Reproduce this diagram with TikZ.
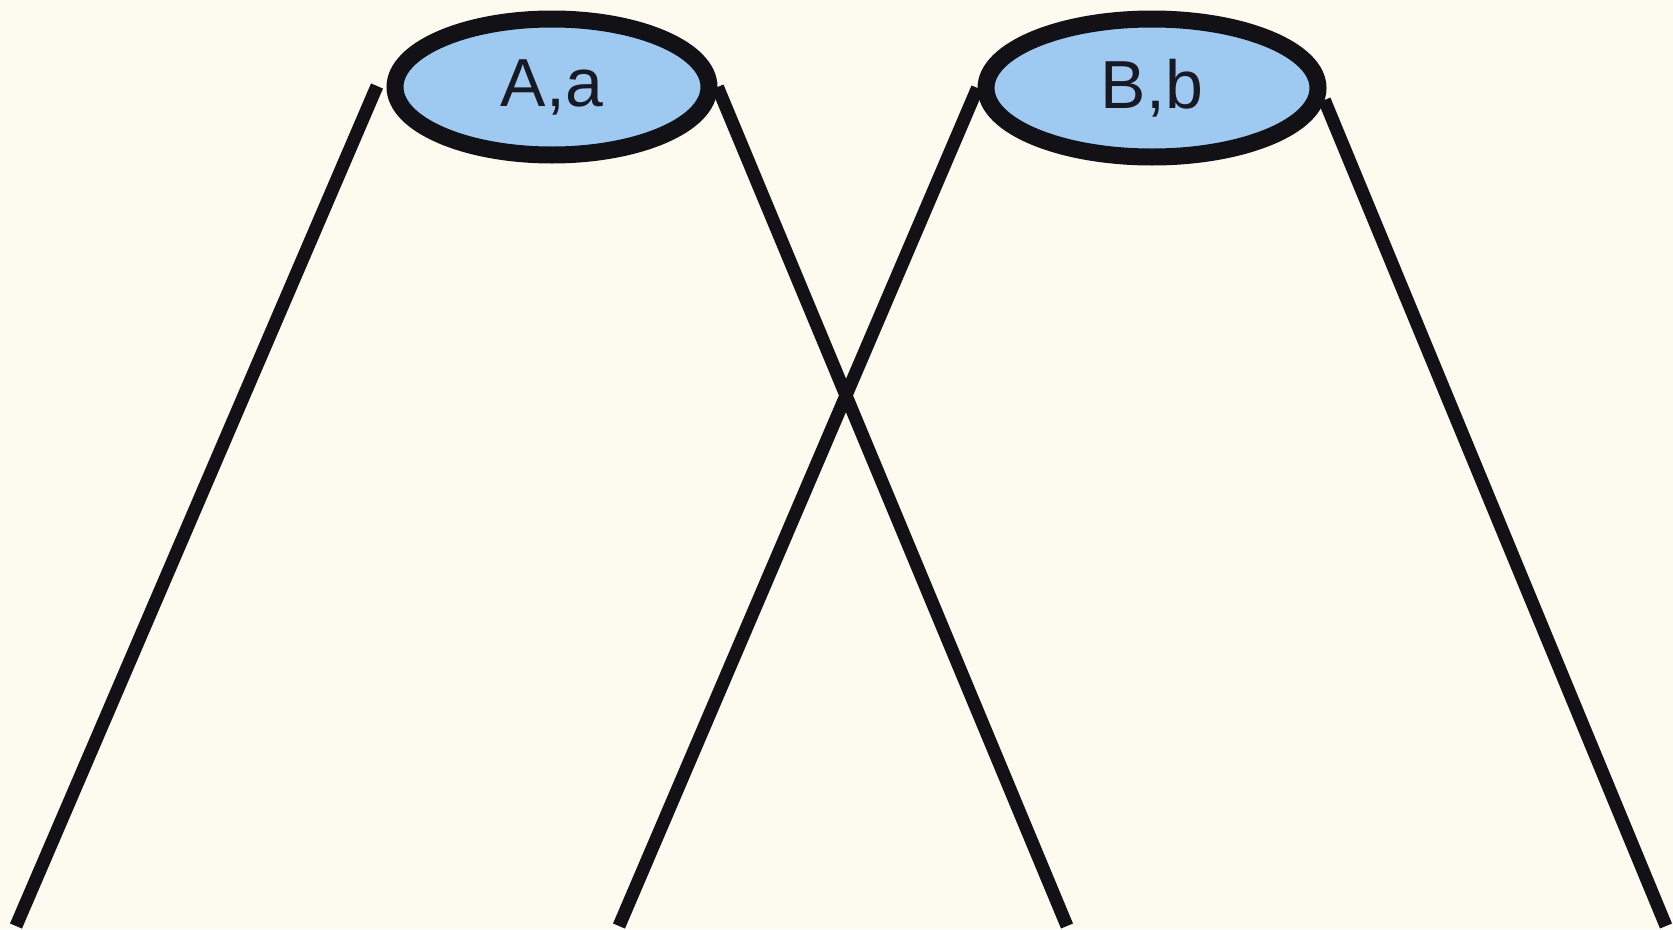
\documentclass[tikz,border=0pt]{standalone}
\usepackage{fontspec}
\setmainfont{Liberation Sans}
\usetikzlibrary{shapes.geometric}
\definecolor{bgcream}{RGB}{253,250,240}
\definecolor{ellblue}{RGB}{158,202,242}
\definecolor{txtdark}{RGB}{25,25,35}
\definecolor{linedark}{RGB}{18,18,22}
\tikzset{
  allele/.style={ellipse, draw=linedark, line width=17pt, fill=ellblue, inner sep=0pt,
    font=\fontsize{68}{80}\selectfont, text=txtdark},
  chromo/.style={draw=linedark, line width=13pt}
}
\begin{document}
\begin{tikzpicture}[x=1pt,y=-1pt]
\fill[bgcream] (0,0) rectangle (1673,929);
\useasboundingbox (0,0) rectangle (1673,929);
\coordinate (b1) at (16,926);
\coordinate (b2) at (1067,926);
\coordinate (b3) at (619,926);
\coordinate (b4) at (1666,926);
\coordinate (t1) at (377,86);
\draw[chromo] (t1) -- (b1);
\node[allele, minimum width=314pt, minimum height=136pt] (A) at (552,87) {A,a};
\node[allele, minimum width=332pt, minimum height=138pt] (B) at (1152,88) {B,b};
\draw[chromo] (A.east) -- (b2);
\draw[chromo] (B.west) -- (b3);
\draw[chromo] (B.-4) -- (b4);
\end{tikzpicture}
\end{document}
